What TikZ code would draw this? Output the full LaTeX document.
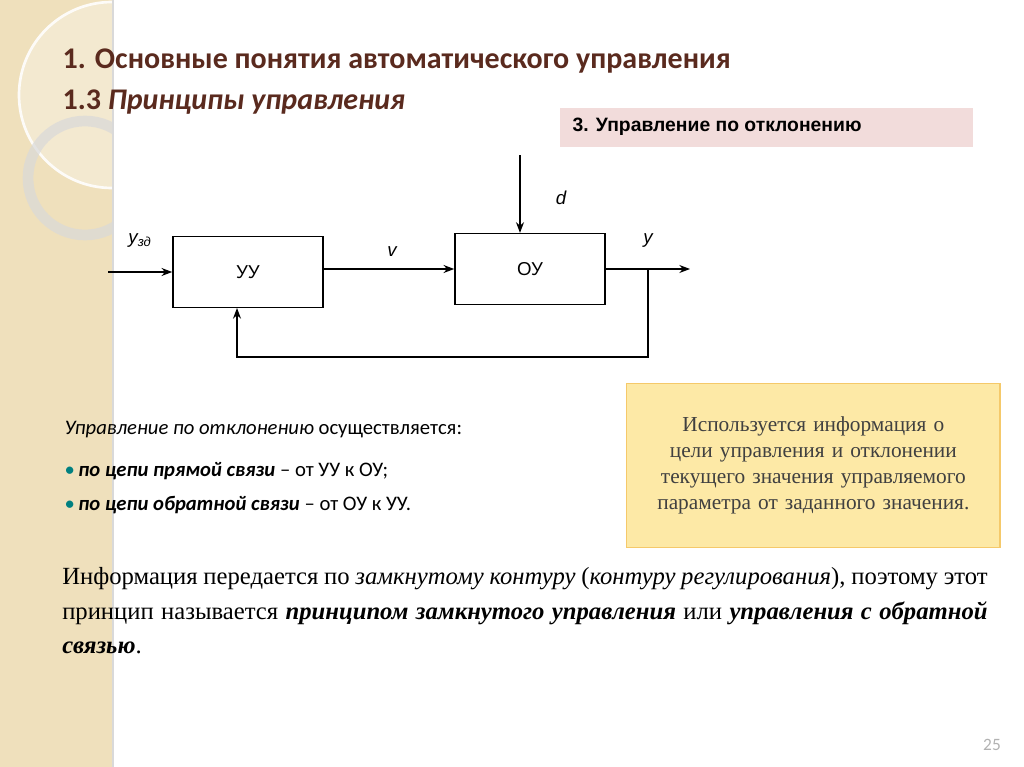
\documentclass[tikz,border=0pt]{standalone}
\usepackage{fontspec}
\setmainfont{Liberation Serif}
\newfontfamily\calfnt{Carlito}
\newfontfamily\ari{Liberation Sans}
\usetikzlibrary{arrows.meta}
\definecolor{strip}{HTML}{EFE0BC}
\definecolor{ttl}{HTML}{5A2A1E}
\definecolor{pinkbx}{HTML}{F2DCDB}
\definecolor{yel}{HTML}{FDE9A6}
\definecolor{yelb}{HTML}{F5C96A}
\tikzset{blk/.style={draw,line width=1.2pt,minimum width=112.5pt,minimum height=53pt,font=\ari\fontsize{14}{16}\selectfont},
 ar/.style={line width=1pt,-{Stealth[length=8pt,width=6pt]}},
 lbl/.style={font=\ari\itshape\fontsize{14}{16}\selectfont}}
\begin{document}
\begin{tikzpicture}[x=0.75pt,y=-0.75pt]
\useasboundingbox (0,0) rectangle (1024,767);
\fill[white] (0,0) rectangle (1024,767);
\fill[strip] (0,0) rectangle (112,767);
\begin{scope}
\clip (0,0) rectangle (112,767);
\fill[white,opacity=0.3] (112,95) circle (92);
\draw[white,line width=2pt,opacity=0.9] (112,95) circle (93);
\draw[gray!30,line width=8pt,opacity=0.7] (85,178) circle (57);
\end{scope}
\draw[gray!30,line width=1pt] (113,0) -- (113,767);
\node[anchor=base west,text=ttl,font=\calfnt\bfseries\fontsize{22.5}{26}\selectfont] (t1) at (58,69) {1. Основные понятия автоматического управления};
\node[anchor=base west,text=ttl,font=\calfnt\bfseries\fontsize{22.5}{26}\selectfont] (t2) at (58,109) {1.3 \itshape Принципы управления};
\fill[pinkbx] (560,108) rectangle (973,147);
\node[font=\ari\bfseries\fontsize{14.5}{16}\selectfont,anchor=west] (hd) at (568,127) {3. Управление по отклонению};
\node[blk] (uu) at (248,272) {УУ};
\node[blk] (ou) at (530,269) {ОУ};
\coordinate (in) at (108,272);
\draw[ar] (in) -- (uu.west);
\draw[ar] (uu.east|-ou.west) -- (ou.west);
\coordinate (dtop) at (520,155);
\draw[ar] (dtop) -- (dtop|-ou.north);
\coordinate (out) at (690,269);
\draw[ar] (ou.east) -- (out);
\coordinate (fb) at (648,269);
\draw[ar] (fb) -- (648,357) -- (237,357) -- (237,308);
\node[lbl] (ly) at (140,241) {у\textsubscript{зд}};
\node[lbl] (lv) at (392,252) {v};
\node[lbl] (ld) at (561,198) {d};
\node[lbl] (lo) at (648,241) {у};
\node[anchor=base west,font=\calfnt\fontsize{15.5}{18}\selectfont] (p1) at (60,434) {\itshape Управление по отклонению\upshape{} осуществляется:};
\node[anchor=base west,font=\calfnt\fontsize{15.5}{18}\selectfont] (p2) at (60,476) {{\color{teal}\textbullet}\,\textbf{\itshape по цепи прямой связи} – от УУ к ОУ;};
\node[anchor=base west,font=\calfnt\fontsize{15.5}{18}\selectfont] (p3) at (60,510) {{\color{teal}\textbullet}\,\textbf{\itshape по цепи обратной связи} – от ОУ к УУ.};
\node[draw=yelb,fill=yel,line width=1pt,anchor=north west,minimum width=280pt,minimum height=123pt,text width=245pt,align=center,font=\fontsize{16}{19.5}\selectfont,text=black!75] (yb) at (626,383) {Используется информация о цели управления и отклонении текущего значения управляемого параметра от заданного значения.};
\node[anchor=north west,text width=694pt,align=justify,font=\fontsize{18.5}{26}\selectfont,inner sep=0pt] (bt) at (62,567) {Информация передается по \textit{замкнутому контуру} (\textit{контуру регулирования}), поэтому этот принцип называется \textbf{\itshape принципом замкнутого управления} или \textbf{\itshape управления с обратной связью}.};
\node[text=gray!60,font=\calfnt\fontsize{13}{15}\selectfont] (pg) at (992,745) {25};
\end{tikzpicture}
\end{document}
